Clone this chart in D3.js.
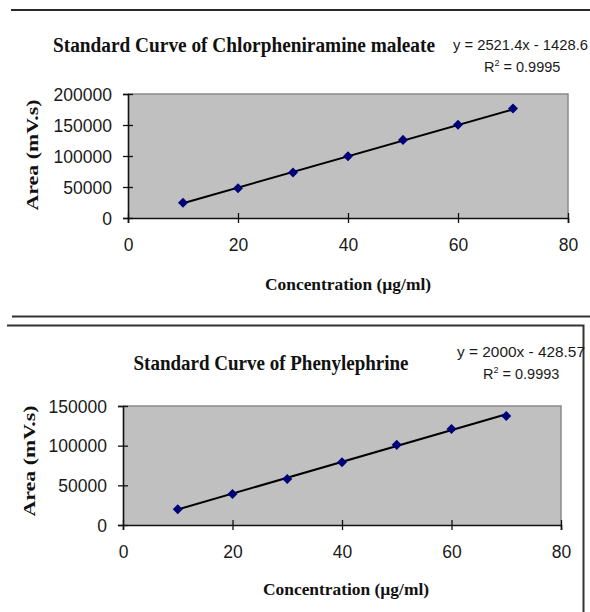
<!DOCTYPE html>
<html>
<head>
<meta charset="utf-8">
<script src="https://cdn.jsdelivr.net/npm/d3@7"></script>
<style>
  body { margin: 0; background: #fff; }
  svg { display: block; }
</style>
</head>
<body>
<div id="chart"></div>
<script>
// x values (µg/ml) shared by both curves
const conc = [10, 20, 30, 40, 50, 60, 70];

// Chlorpheniramine maleate peak areas
const cpmArea = [24500, 48000, 73500, 99500, 126000, 150500, 176500];
const cpmFit = {slope: 2521.4, intercept: -1428.6};
const cpmYTicks = [0, 50000, 100000, 150000, 200000];

// Phenylephrine peak areas
const pheArea = [19800, 39000, 58000, 79000, 101000, 121000, 137500];
const pheFit = {slope: 2000, intercept: -428.57};
const pheYTicks = [0, 50000, 100000, 150000];

const xTicks = [0, 20, 40, 60, 80];

const W = 590, H = 612;

const svg = d3.select("#chart").append("svg")
    .attr("width", W)
    .attr("height", H);

// page rules / frame
svg.append("line").attr("x1", 11).attr("x2", 590).attr("y1", 10).attr("y2", 10)
    .attr("stroke", "#2a2a2a").attr("stroke-width", 2);
svg.append("line").attr("x1", 12).attr("x2", 590).attr("y1", 316.5).attr("y2", 316.5)
    .attr("stroke", "#333").attr("stroke-width", 2);
svg.append("path").attr("d", "M7,325.5H583.5V612")
    .attr("fill", "none").attr("stroke", "#333").attr("stroke-width", 2);

function drawChart(c) {
  const g = svg.append("g");

  const x = d3.scaleLinear().domain([0, 80]).range([c.left, c.right]);
  const y = d3.scaleLinear().domain([0, c.yMax]).range([c.bottom, c.top]);

  // plot area
  g.append("rect")
      .attr("x", c.left).attr("y", c.top)
      .attr("width", c.right - c.left).attr("height", c.bottom - c.top)
      .attr("fill", "#c0c0c0");
  g.append("path")
      .attr("d", `M${c.left},${c.top}H${c.right}V${c.bottom}`)
      .attr("fill", "none").attr("stroke", "#8a8a8a").attr("stroke-width", 1.5);

  // y axis
  const ya = g.append("g")
      .attr("transform", `translate(${c.left},0)`)
      .call(d3.axisLeft(y).tickValues(c.yTicks).tickFormat(d3.format("d")).tickSize(5).tickPadding(11));
  // x axis
  const xa = g.append("g")
      .attr("transform", `translate(0,${c.bottom})`)
      .call(d3.axisBottom(x).tickValues(xTicks).tickSize(5).tickPadding(16));

  [ya, xa].forEach(a => {
    a.select(".domain").attr("stroke", "#111").attr("stroke-width", 1.6);
    a.selectAll(".tick line").attr("stroke", "#111").attr("stroke-width", 1.3);
    a.selectAll("text")
        .attr("fill", "#1a1a1a")
        .style("font-family", "'Liberation Sans', Arial, sans-serif")
        .style("font-size", "17.5px");
  });
  // ticks cross the axis line, Excel style
  ya.selectAll(".tick line").attr("x1", 5).attr("x2", -5);
  xa.selectAll(".tick line").attr("y1", -5).attr("y2", 5);
  ya.selectAll(".tick text").attr("dy", "0.36em");

  // trendline
  const fit = xv => c.fit.slope * xv + c.fit.intercept;
  const xs = d3.extent(conc);
  g.append("line")
      .attr("x1", x(xs[0])).attr("y1", y(fit(xs[0])))
      .attr("x2", x(xs[1])).attr("y2", y(fit(xs[1])))
      .attr("stroke", "#000").attr("stroke-width", 2);

  // points
  g.selectAll(".pt")
    .data(conc.map((d, i) => [d, c.area[i]]))
    .join("path")
      .attr("class", "pt")
      .attr("transform", d => `translate(${x(d[0])},${y(d[1])})`)
      .attr("d", d3.symbol(d3.symbolDiamond2, 64))
      .attr("fill", "#00007a");

  // titles
  g.append("text")
      .attr("x", c.titleX).attr("y", c.titleY)
      .attr("text-anchor", "middle")
      .attr("textLength", c.titleW).attr("lengthAdjust", "spacingAndGlyphs")
      .style("font-family", "'Liberation Serif', 'Times New Roman', serif")
      .style("font-weight", "bold").style("font-size", "20px")
      .attr("fill", "#111")
      .text(c.title);

  g.append("text")
      .attr("x", c.xTitleX).attr("y", c.xTitleY)
      .attr("text-anchor", "middle")
      .attr("textLength", 166).attr("lengthAdjust", "spacingAndGlyphs")
      .style("font-family", "'Liberation Serif', 'Times New Roman', serif")
      .style("font-weight", "bold").style("font-size", "17px")
      .attr("fill", "#111")
      .text("Concentration (µg/ml)");

  g.append("text")
      .attr("transform", `translate(${c.yTitleX},${c.yTitleY}) rotate(-90)`)
      .attr("text-anchor", "middle")
      .attr("textLength", 111).attr("lengthAdjust", "spacingAndGlyphs")
      .style("font-family", "'Liberation Serif', 'Times New Roman', serif")
      .style("font-weight", "bold").style("font-size", "17px")
      .attr("fill", "#111")
      .text("Area (mV.s)");

  // regression label
  const eq = g.append("g")
      .style("font-family", "'Liberation Sans', Arial, sans-serif")
      .style("font-size", "14.5px")
      .attr("fill", "#1a1a1a");
  eq.append("text")
      .attr("x", c.eqX).attr("y", c.eqY)
      .attr("textLength", c.eqW).attr("lengthAdjust", "spacingAndGlyphs")
      .text(c.eqText);
  const r = eq.append("text").attr("x", c.rX).attr("y", c.eqY + 22);
  r.append("tspan").text("R");
  r.append("tspan").attr("dy", -6).style("font-size", "9px").text("2");
  r.append("tspan").attr("dy", 6).text(" = " + c.r2);
}

drawChart({
  area: cpmArea, fit: cpmFit, yTicks: cpmYTicks, yMax: 200000,
  left: 128, right: 568, top: 94, bottom: 218,
  title: "Standard Curve of Chlorpheniramine maleate", titleX: 244, titleY: 52, titleW: 382,
  xTitleX: 348, xTitleY: 290, yTitleX: 38, yTitleY: 155,
  eqText: "y = 2521.4x - 1428.6", eqX: 453, eqY: 50, eqW: 135, rX: 484, r2: "0.9995"
});

drawChart({
  area: pheArea, fit: pheFit, yTicks: pheYTicks, yMax: 150000,
  left: 123, right: 561, top: 406, bottom: 525,
  title: "Standard Curve of Phenylephrine", titleX: 271, titleY: 370, titleW: 275,
  xTitleX: 346, xTitleY: 595, yTitleX: 35, yTitleY: 461,
  eqText: "y = 2000x - 428.57", eqX: 457, eqY: 357, eqW: 128, rX: 483, r2: "0.9993"
});
</script>
</body>
</html>
